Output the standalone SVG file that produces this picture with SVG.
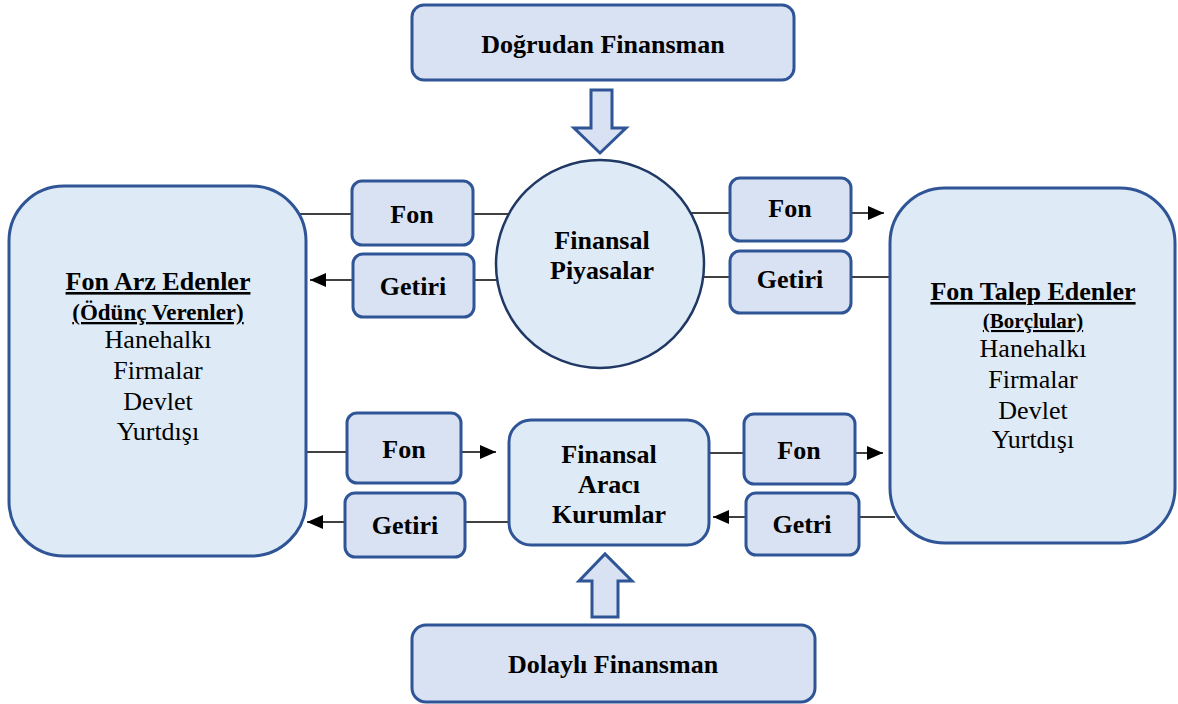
<svg xmlns="http://www.w3.org/2000/svg" width="1178" height="704" viewBox="0 0 1178 704">
<style>
.box{fill:#d9e2f3;stroke:#2f5597;stroke-width:3}
.big{fill:#deeaf6;stroke:#2f5597;stroke-width:3}
.circ{fill:#deeaf6;stroke:#1f3864;stroke-width:2.5}
.conn{stroke:#000;stroke-width:1.5;fill:none}
.arr{marker-end:url(#ah)}
text{font-family:"Liberation Serif","Times New Roman",serif;fill:#000;text-anchor:middle;font-size:26px}
.b{font-weight:bold}
.u{text-decoration:underline}
.s1{font-size:23px}
.s2{font-size:21px}
</style>
<defs>
<marker id="ah" markerUnits="userSpaceOnUse" markerWidth="16" markerHeight="14" refX="16" refY="7" orient="auto">
<path d="M0,0 L16,7 L0,14 z" fill="#000"/>
</marker>
</defs>
<rect width="1178" height="704" fill="#fff"/>
<g id="connectors">
<line class="conn" x1="300" y1="214" x2="512" y2="214"/>
<line class="conn arr" x1="500" y1="280" x2="310" y2="280"/>
<line class="conn arr" x1="690" y1="213" x2="884" y2="213"/>
<line class="conn" x1="900" y1="277" x2="700" y2="277"/>
<line class="conn arr" x1="300" y1="452" x2="496" y2="452"/>
<line class="conn arr" x1="515" y1="522" x2="307" y2="522"/>
<line class="conn arr" x1="700" y1="453" x2="883" y2="453"/>
<line class="conn arr" x1="895" y1="517" x2="713" y2="517"/>
</g>
<g id="dogrudan">
<rect class="box" x="412" y="5" width="382" height="75" rx="12"/>
<text class="b" x="603" y="53">Doğrudan Finansman</text>
</g>
<g id="arrow-down">
<polygon class="box" stroke-width="2.5" points="591,90 612,90 612,128 626,128 600,153 574,128 591,128"/>
</g>
<g id="piyasalar">
<circle class="circ" cx="600" cy="264" r="104"/>
<text class="b" x="602" y="249">Finansal</text>
<text class="b" x="602" y="279">Piyasalar</text>
</g>
<g id="fon-arz">
<rect class="big" x="9" y="186" width="297" height="370" rx="55"/>
<text class="b u" x="158" y="290">Fon Arz Edenler</text>
<text class="b u s1" x="158" y="320">(Ödünç Verenler)</text>
<text x="158" y="348">Hanehalkı</text>
<text x="158" y="379">Firmalar</text>
<text x="158" y="410">Devlet</text>
<text x="158" y="440">Yurtdışı</text>
</g>
<g id="fon-talep">
<rect class="big" x="890" y="188" width="285" height="355" rx="55"/>
<text class="b u" x="1033" y="300">Fon Talep Edenler</text>
<text class="b u s2" x="1033" y="328">(Borçlular)</text>
<text x="1033" y="357">Hanehalkı</text>
<text x="1033" y="388">Firmalar</text>
<text x="1033" y="419">Devlet</text>
<text x="1033" y="448">Yurtdışı</text>
</g>
<g id="fon-tl">
<rect class="box" x="352" y="181" width="121" height="64" rx="10"/>
<text class="b" x="412" y="223">Fon</text>
</g>
<g id="getiri-tl">
<rect class="box" x="353" y="254" width="121" height="63" rx="10"/>
<text class="b" x="413" y="295">Getiri</text>
</g>
<g id="fon-tr">
<rect class="box" x="730" y="178" width="121" height="63" rx="10"/>
<text class="b" x="790" y="217">Fon</text>
</g>
<g id="getiri-tr">
<rect class="box" x="730" y="251" width="121" height="62" rx="10"/>
<text class="b" x="790" y="288">Getiri</text>
</g>
<g id="fon-bl">
<rect class="box" x="347" y="413" width="114" height="70" rx="10"/>
<text class="b" x="404" y="458">Fon</text>
</g>
<g id="getiri-bl">
<rect class="box" x="345" y="493" width="120" height="64" rx="10"/>
<text class="b" x="405" y="534">Getiri</text>
</g>
<g id="fon-br">
<rect class="box" x="744" y="414" width="111" height="70" rx="10"/>
<text class="b" x="799" y="459">Fon</text>
</g>
<g id="getri-br">
<rect class="box" x="746" y="493" width="113" height="62" rx="10"/>
<text class="b" x="802" y="533">Getri</text>
</g>
<g id="araci-kurumlar">
<rect class="big" x="509" y="420" width="200" height="125" rx="22"/>
<text class="b" x="609" y="463">Finansal</text>
<text class="b" x="609" y="493">Aracı</text>
<text class="b" x="609" y="523">Kurumlar</text>
</g>
<g id="arrow-up">
<polygon class="box" stroke-width="2.5" points="592,617 618,617 618,581 632,581 605,554 579,581 592,581"/>
</g>
<g id="dolayli">
<rect class="box" x="412" y="625" width="403" height="77" rx="14"/>
<text class="b" x="613" y="673">Dolaylı Finansman</text>
</g>
</svg>
